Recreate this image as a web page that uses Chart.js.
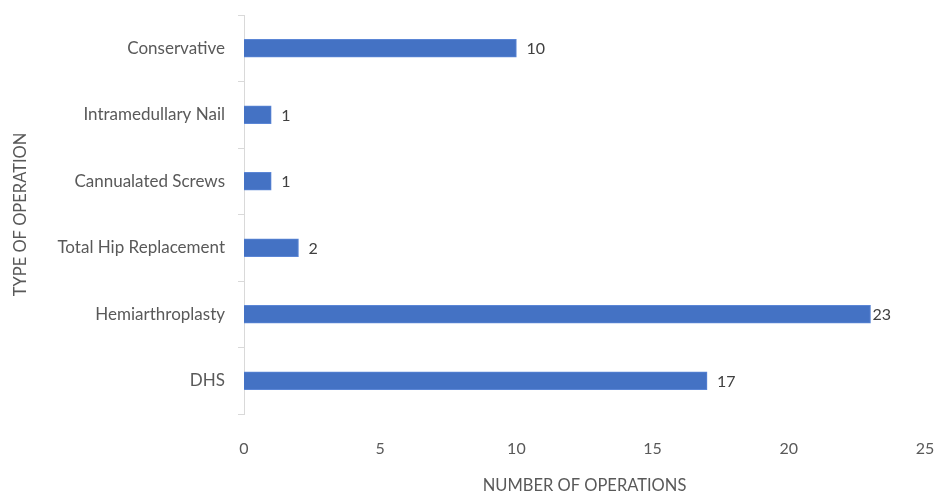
<!DOCTYPE html>
<html>
<head>
<meta charset="utf-8">
<script src="https://cdn.jsdelivr.net/npm/chart.js@4"></script>
<style>
  html, body { margin: 0; padding: 0; background: #fff; }
  #wrap { width: 936px; height: 493px; }
</style>
</head>
<body>
<div id="wrap"><canvas id="ops-chart" width="936" height="493"></canvas></div>
<script>
  // Data
  const operationTypes = ['Conservative', 'Intramedullary Nail', 'Cannualated Screws', 'Total Hip Replacement', 'Hemiarthroplasty', 'DHS'];
  const operationCounts = [10, 1, 1, 2, 23, 17];
  const xTicks = [0, 5, 10, 15, 20, 25];

  const FONT = 'Lato, "Open Sans", sans-serif';
  const TEXT = '#595959';

  // draws the value next to each bar end
  const barValueLabels = {
    id: 'barValueLabels',
    afterDatasetsDraw(chart) {
      const { ctx, chartArea } = chart;
      const meta = chart.getDatasetMeta(0);
      ctx.save();
      ctx.font = '16px ' + FONT;
      ctx.fillStyle = '#404040';
      ctx.textBaseline = 'middle';
      meta.data.forEach((bar, i) => {
        const text = String(operationCounts[i]);
        const w = ctx.measureText(text).width;
        let x = bar.x + 10;
        if (x + w > chartArea.right - 30) x = bar.x + 2;
        ctx.fillText(text, x, bar.y + 1);
      });
      ctx.restore();
    }
  };

  new Chart(document.getElementById('ops-chart'), {
    type: 'bar',
    data: {
      labels: operationTypes,
      datasets: [{
        data: operationCounts,
        backgroundColor: '#4472c4',
        borderColor: '#5b86d6',
        borderWidth: 1,
        barThickness: 18
      }]
    },
    options: {
      indexAxis: 'y',
      responsive: false,
      animation: false,
      layout: { padding: { top: 15, right: 11, left: 0, bottom: 0 } },
      plugins: {
        legend: { display: false },
        tooltip: { enabled: false }
      },
      scales: {
        x: {
          min: 0,
          max: 25,
          afterBuildTicks: (scale) => { scale.ticks = xTicks.map(v => ({ value: v })); },
          grid: { display: false },
          border: { display: false },
          ticks: { color: TEXT, font: { family: FONT, size: 16 }, padding: 17 },
          title: {
            display: true,
            text: 'NUMBER OF OPERATIONS',
            color: TEXT,
            font: { family: FONT, size: 16.5 },
            padding: { top: 14, bottom: -3 }
          },
          afterFit: (scale) => {
            scale.height = 79;
            scale.paddingLeft = 0;
            scale.paddingRight = 0;
          }
        },
        y: {
          grid: {
            display: true,
            drawOnChartArea: false,
            drawTicks: true,
            tickLength: 6,
            color: '#d9d9d9',
            offset: true
          },
          border: { display: true, color: '#d9d9d9', width: 1 },
          ticks: { color: TEXT, font: { family: FONT, size: 17 }, padding: 13 },
          title: {
            display: true,
            text: 'TYPE OF OPERATION',
            color: TEXT,
            font: { family: FONT, size: 16.5 },
            padding: { top: 11, bottom: 0 }
          },
          afterFit: (scale) => {
            scale.width = 244;
            scale.paddingTop = 0;
            scale.paddingBottom = 0;
          }
        }
      }
    },
    plugins: [barValueLabels]
  });
</script>
</body>
</html>
